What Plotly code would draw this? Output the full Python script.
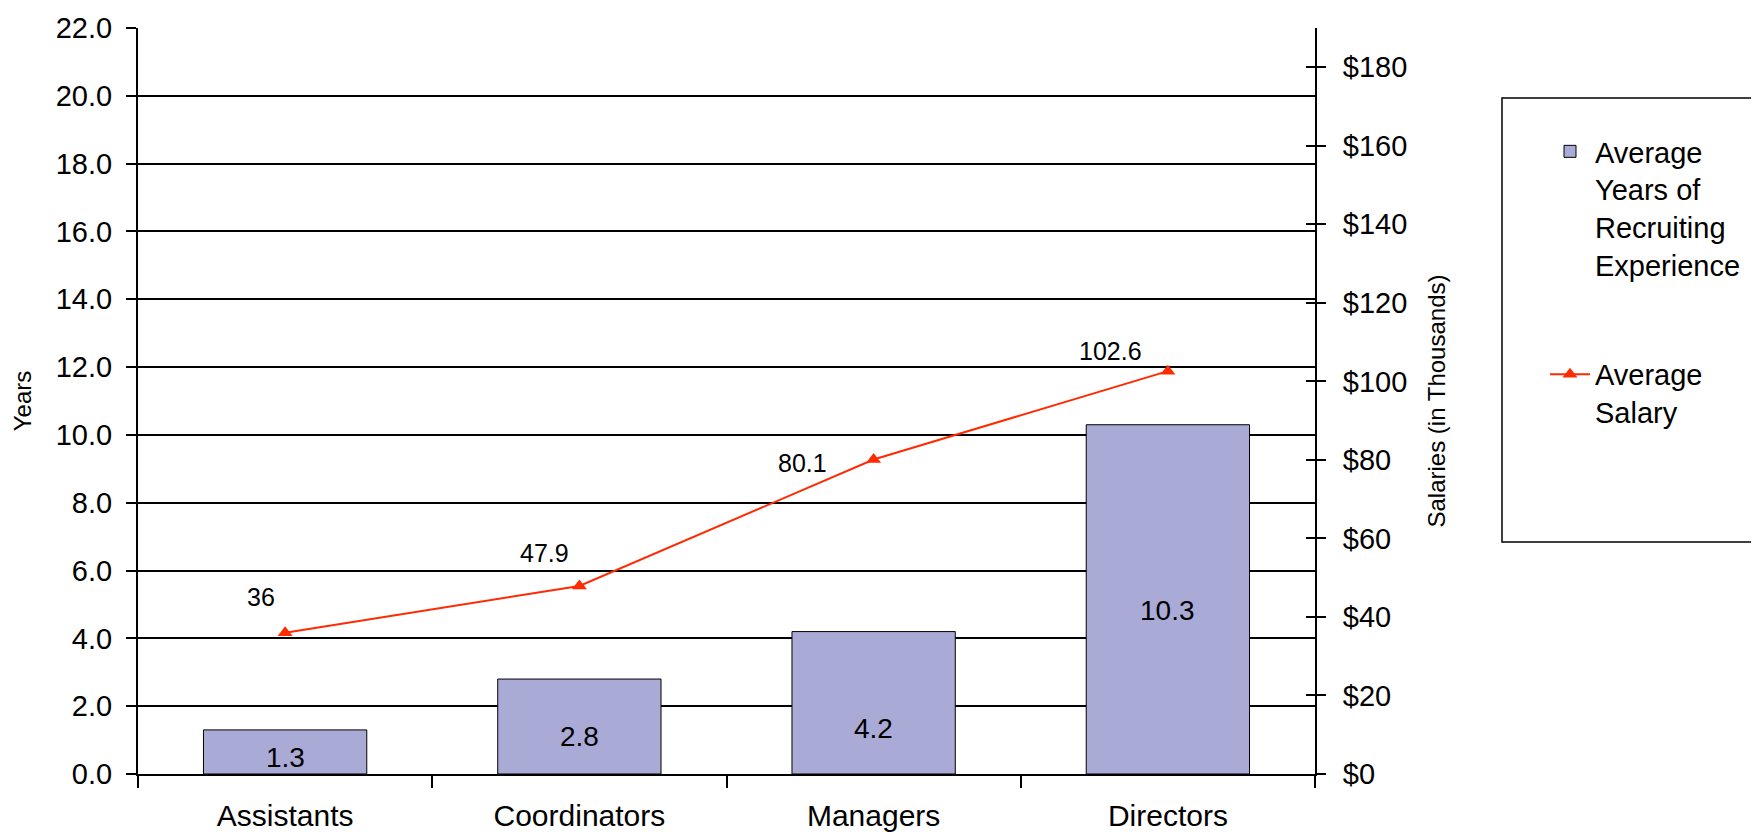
import plotly.graph_objects as go

categories = ["Assistants", "Coordinators", "Managers", "Directors"]
years = [1.3, 2.8, 4.2, 10.3]
year_labels = ["1.3", "2.8", "4.2", "10.3"]
salary = [36, 47.9, 80.1, 102.6]
salary_labels = ["36", "47.9", "80.1", "102.6"]
left_ticks = [0, 2, 4, 6, 8, 10, 12, 14, 16, 18, 20, 22]
right_ticks = [0, 20, 40, 60, 80, 100, 120, 140, 160, 180]
right_tick_text = ["$" + str(v) for v in right_ticks]

# the page body has an 8px margin; figure sized to fit the window
OFF = 8
W, H = 1759 - OFF, 834 - OFF
L = 138 - OFF
T = 28 - OFF
R = W - (1315 - OFF)
B = H - (774 - OFF)
PW = W - L - R
PH = H - T - B

FONT = "Liberation Sans, Arial, sans-serif"
BAR_COLOR = "#AAAAD6"
LINE_COLOR = "#FF2A00"


def px_x(px):
    # px given in page coordinates
    return (px - OFF - L) / PW


def px_y(py):
    return (H - B - (py - OFF)) / PH


fig = go.Figure()
fig.add_trace(go.Bar(
    x=categories, y=years, yaxis="y",
    name="Average<br>Years of<br>Recruiting<br>Experience",
    legendgroup="a",
    marker=dict(color=BAR_COLOR, line=dict(color="black", width=1)),
    width=0.555,
    hoverinfo="skip",
))
fig.add_trace(go.Scatter(
    x=categories, y=salary, yaxis="y2",
    name="Average<br>Salary",
    legendgroup="b",
    mode="lines+markers",
    line=dict(color=LINE_COLOR, width=2),
    marker=dict(symbol="triangle-up", size=13, color=LINE_COLOR),
    hoverinfo="skip",
))
# invisible helper trace to carry the inner half of the right-axis ticks
fig.add_trace(go.Scatter(
    x=categories, y=salary, yaxis="y3", mode="markers",
    marker=dict(opacity=0), showlegend=False, hoverinfo="skip",
))

# bar value labels (placed up from each bar's base)
bar_label_lift = [17, 38, 46, 164]
for c, lab, lift in zip(categories, year_labels, bar_label_lift):
    fig.add_annotation(x=c, y=0, xref="x", yref="y", text=lab, showarrow=False,
                       yanchor="middle", yshift=lift,
                       font=dict(size=28, color="black", family=FONT))

# salary data labels
offsets = [(-24, 36), (-35, 33), (-71, -3), (-57, 20)]
for c, v, lab, (dx, dy) in zip(categories, salary, salary_labels, offsets):
    fig.add_annotation(x=c, y=v, xref="x", yref="y2", text=lab, showarrow=False,
                       xshift=dx, yshift=dy,
                       font=dict(size=25, color="black", family=FONT))

fig.add_shape(type="rect", xref="paper", yref="paper",
              x0=px_x(1502), x1=px_x(1830), y0=px_y(542), y1=px_y(98),
              line=dict(color="black", width=1.5), fillcolor="rgba(0,0,0,0)")

fig.update_layout(
    width=W, height=H,
    margin=dict(l=L, r=R, t=T, b=B, autoexpand=False),
    paper_bgcolor="white", plot_bgcolor="white",
    font=dict(family=FONT, color="black"),
    bargap=0.445,
    showlegend=True,
    legend=dict(
        x=px_x(1545), xanchor="left", y=px_y(126), yanchor="top",
        font=dict(size=29, family=FONT, color="black"),
        bgcolor="rgba(0,0,0,0)", borderwidth=0,
        tracegroupgap=69, valign="top", traceorder="grouped",
        itemwidth=40,
    ),
    xaxis=dict(
        type="category", range=[-0.5, 3.5],
        tickson="boundaries", ticks="outside", ticklen=12, tickwidth=1.5, tickcolor="black",
        showline=True, linecolor="black", linewidth=2,
        showgrid=False, zeroline=False,
        tickfont=dict(size=30, family=FONT, color="black"),
        ticklabelstandoff=14,
    ),
    yaxis=dict(
        range=[0, 22], tickvals=left_ticks, tickformat=".1f",
        ticks="outside", ticklen=10, tickwidth=1.5, tickcolor="black",
        showline=True, linecolor="black", linewidth=2,
        showgrid=True, gridcolor="black", gridwidth=1.5,
        zeroline=False,
        tickfont=dict(size=29, family=FONT, color="black"),
        ticklabelstandoff=8,
        title=dict(text="Years", font=dict(size=24, family=FONT, color="black"), standoff=17),
    ),
    yaxis2=dict(
        overlaying="y", side="right", range=[0, 190],
        tickvals=right_ticks, ticktext=right_tick_text,
        ticks="outside", ticklen=9, tickwidth=1.5, tickcolor="black",
        showline=True, linecolor="black", linewidth=2,
        showgrid=False, zeroline=False,
        tickfont=dict(size=29, family=FONT, color="black"),
        ticklabelstandoff=11,
        title=dict(text="Salaries (in Thousands)", font=dict(size=24, family=FONT, color="black"), standoff=22),
    ),
    yaxis3=dict(
        overlaying="y", side="right", range=[0, 190],
        tickvals=right_ticks, showticklabels=False,
        ticks="inside", ticklen=9, tickwidth=1.5, tickcolor="black",
        showline=False, showgrid=False, zeroline=False,
    ),
)

fig.write_html("out.html")
